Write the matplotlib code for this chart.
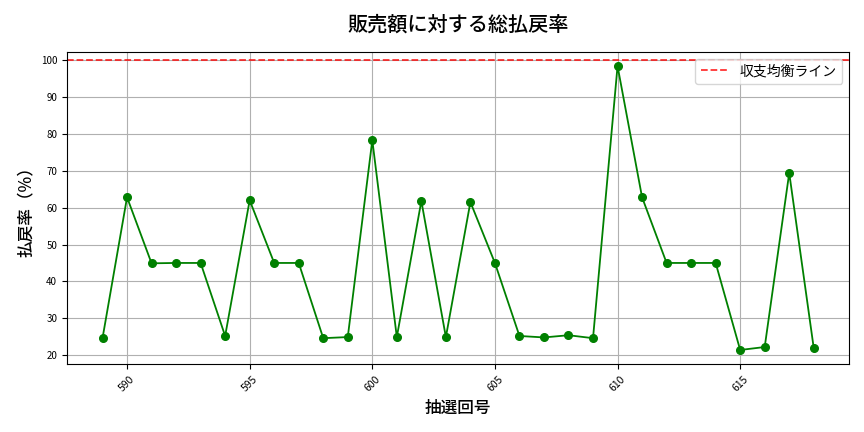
import matplotlib
matplotlib.use("Agg")
import matplotlib.pyplot as plt

plt.rcParams['font.family'] = ['Noto Sans CJK JP', 'DejaVu Sans']

draws = list(range(589, 619))
payout_rate = [24.6, 62.8, 44.9, 45.0, 45.0, 25.2, 62.0, 45.0, 45.0, 24.6,
               24.9, 78.3, 24.9, 61.8, 24.9, 61.5, 45.0, 25.2, 24.8, 25.4,
               24.6, 98.4, 62.8, 45.0, 45.0, 45.0, 21.4, 22.2, 69.4, 21.9]

title = "販売額に対する総払戻率"
xlabel = "抽選回号"
ylabel = "払戻率（%）"
legend_label = "収支均衡ライン"
breakeven = 100

fig = plt.figure(figsize=(8.64, 4.32), dpi=100)
ax = fig.add_axes([0.0775, 0.157, 0.9055, 0.723])
ax.plot(draws, payout_rate, color='green', marker='o', markersize=5.5, linewidth=1.3)
ymin, ymax = min(payout_rate), max(payout_rate)
rng = ymax - ymin
ax.axhline(breakeven, color='red', linestyle='--', alpha=0.8, linewidth=1.3, label=legend_label)
ax.set_ylim(ymin - 0.05 * rng, ymax + 0.05 * rng)
ax.set_title(title, fontsize=14.5, pad=15, fontweight='medium')
ax.set_xlabel(xlabel, fontsize=12, fontweight='medium')
ax.set_ylabel(ylabel, fontsize=12, fontweight='medium')
ax.tick_params(axis='y', labelsize=7)
ax.tick_params(axis='x', labelsize=7.5)
plt.setp(ax.get_xticklabels(), rotation=45)
ax.grid(True)
ax.legend(loc='upper right', fontsize=10)
fig.savefig("out.png", dpi=100)
